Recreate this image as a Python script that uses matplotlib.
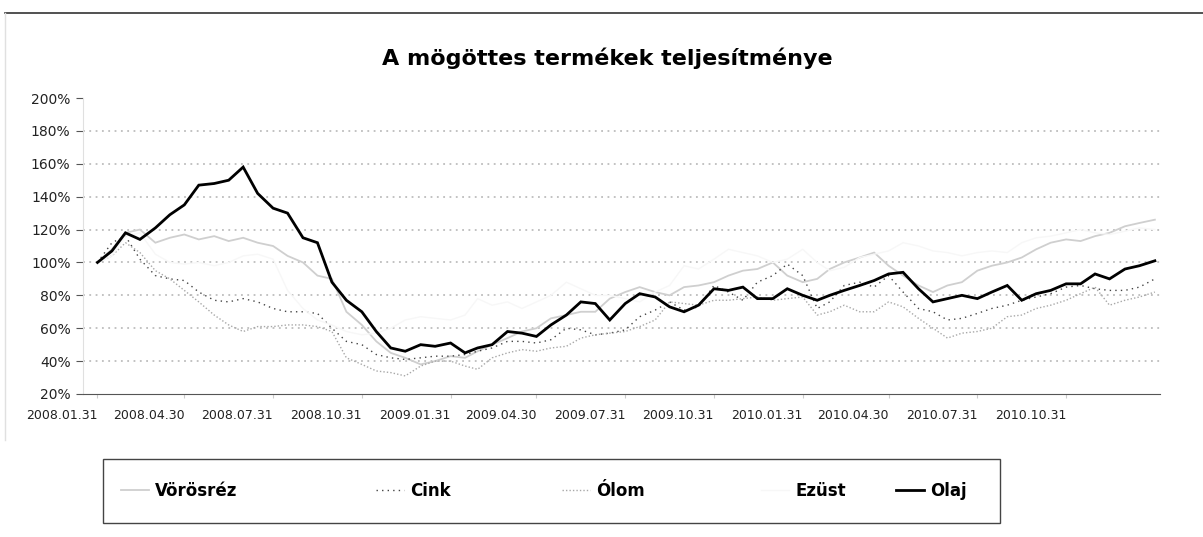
import numpy as np
import pandas as pd
import matplotlib
matplotlib.use("Agg")
import matplotlib.pyplot as plt
import matplotlib.dates as mdates
from matplotlib.lines import Line2D
from matplotlib.patches import Rectangle

# félhavi adatpontok 2008.01.31 - 2011.01.31
try:
    dates = pd.date_range("2008-01-31", "2011-01-31", freq="SME")
except ValueError:
    dates = pd.date_range("2008-01-31", "2011-01-31", freq="SM")

# értékek %-ban (2008.01.31 = 100%)
vorosrez = [100, 108, 118, 120, 112, 115, 117, 114, 116, 113,
            115, 112, 110, 104, 100, 92, 90, 70, 62, 52,
            45, 42, 38, 40, 43, 42, 46, 50, 54, 58,
            60, 66, 68, 70, 70, 78, 82, 85, 82, 80,
            85, 86, 88, 92, 95, 96, 100, 92, 88, 90,
            96, 100, 103, 106, 98, 92, 86, 82, 86, 88,
            95, 98, 100, 103, 108, 112, 114, 113, 116, 118,
            122, 124, 126]
cink = [100, 112, 116, 102, 92, 90, 89, 82, 77, 76,
        78, 76, 72, 70, 70, 69, 60, 52, 50, 44,
        42, 41, 42, 43, 43, 44, 46, 48, 52, 52,
        51, 53, 60, 59, 56, 57, 59, 67, 71, 76,
        71, 73, 86, 82, 77, 88, 92, 99, 92, 72,
        76, 86, 88, 85, 92, 82, 72, 70, 65, 66,
        69, 72, 74, 77, 79, 81, 85, 86, 84, 83,
        83, 85, 90]
olom = [100, 104, 112, 106, 95, 90, 83, 76, 68, 62,
        58, 61, 61, 62, 62, 61, 58, 42, 38, 34,
        33, 31, 37, 40, 40, 37, 35, 42, 45, 47,
        46, 48, 49, 54, 56, 57, 58, 61, 65, 76,
        75, 74, 77, 77, 78, 79, 77, 78, 79, 68,
        70, 74, 70, 70, 76, 73, 66, 60, 54, 57,
        58, 60, 67, 68, 72, 74, 77, 81, 85, 74,
        77, 79, 82]
ezust = [100, 104, 116, 118, 105, 100, 99, 100, 98, 100,
         104, 105, 102, 83, 72, 65, 62, 58, 56, 57,
         60, 65, 67, 66, 65, 68, 78, 74, 76, 72,
         76, 80, 88, 84, 80, 80, 78, 76, 82, 86,
         98, 96, 102, 108, 106, 104, 100, 102, 108, 100,
         95, 97, 103, 105, 107, 112, 110, 107, 106, 104,
         106, 107, 106, 112, 115, 116, 118, 120, 118, 117,
         119, 121, 120]
olaj = [100, 107, 118, 114, 121, 129, 135, 147, 148, 150,
        158, 142, 133, 130, 115, 112, 88, 77, 70, 58,
        48, 46, 50, 49, 51, 45, 48, 50, 58, 57,
        55, 62, 68, 76, 75, 65, 75, 81, 79, 73,
        70, 74, 84, 83, 85, 78, 78, 84, 80, 77,
        80, 83, 86, 89, 93, 94, 84, 76, 78, 80,
        78, 82, 86, 77, 81, 83, 87, 87, 93, 90,
        96, 98, 101]

tick_dates = pd.to_datetime(["2008-01-31", "2008-04-30", "2008-07-31", "2008-10-31",
                             "2009-01-31", "2009-04-30", "2009-07-31", "2009-10-31",
                             "2010-01-31", "2010-04-30", "2010-07-31", "2010-10-31"])
y_ticks = list(range(20, 201, 20))

series = [
    ("Vörösréz", vorosrez, dict(color="#cfcfcf", lw=1.3, ls="-")),
    ("Cink", cink, dict(color="#444444", lw=1.0, ls=(0, (1, 3)))),
    ("Ólom", olom, dict(color="#a8a8a8", lw=1.0, ls=(0, (1, 1.5)))),
    ("Ezüst", ezust, dict(color="#f7f7f7", lw=1.0, ls="-")),
    ("Olaj", olaj, dict(color="black", lw=2.0, ls="-")),
]

fig = plt.figure(figsize=(12.03, 5.37), dpi=100, facecolor="white")
ax = fig.add_axes([0.069, 0.2663, 0.895, 0.5512])

lines = []
for name, vals, st in series:
    ln, = ax.plot(dates, vals, label=name, solid_joinstyle="miter", **st)
    lines.append(ln)

ax.set_ylim(20, 200)
ax.set_yticks(y_ticks)
ax.set_yticklabels([f"{v}%" for v in y_ticks])
ax.set_xlim(pd.Timestamp("2008-01-16"), pd.Timestamp("2011-02-05"))
ax.set_xticks(tick_dates)
ax.xaxis.set_major_formatter(mdates.DateFormatter("%Y.%m.%d"))
for lab in ax.get_xticklabels():
    lab.set_ha("right")

ax.grid(axis="y", color="#bdbdbd", lw=1.3, ls=(0, (1, 2.5)))
ax.get_ygridlines()[-1].set_visible(False)
ax.get_ygridlines()[0].set_visible(False)

for s in ["top", "right"]:
    ax.spines[s].set_visible(False)
ax.spines["left"].set_color("#e0e0e0")
ax.spines["bottom"].set_color("#555555")
ax.tick_params(axis="y", length=5, color="#555555", labelsize=10, labelcolor="#222222", pad=4)
ax.tick_params(axis="x", length=3, color="#cccccc", labelsize=9, labelcolor="#222222", pad=8)

fig.text(0.505, 0.892, "A mögöttes termékek teljesítménye", ha="center", va="center",
         fontsize=16, fontweight="bold", color="black")

# keret
fig.add_artist(Line2D([0.004, 1.0], [0.976, 0.976], transform=fig.transFigure, color="#333333", lw=1.2))
fig.add_artist(Line2D([0.004, 0.004], [0.976, 0.18], transform=fig.transFigure, color="#e0e0e0", lw=1.0))

# jelmagyarázat
fig.add_artist(Rectangle((103 / 1203, 1 - 523 / 537), 897 / 1203, 64 / 537,
                         transform=fig.transFigure, fill=False, edgecolor="#444444", lw=1.0))
text_x = [155, 410, 596, 795, 930]
for ln, tx in zip(lines, text_x):
    fig.legend([ln], [ln.get_label()], loc="center left",
               bbox_to_anchor=((tx - 34) / 1203, 1 - 491 / 537),
               frameon=False, borderpad=0, borderaxespad=0, handlelength=1.7,
               handletextpad=0.35, prop=dict(size=12, weight="bold"))

fig.savefig("out.png", dpi=100, facecolor="white")
